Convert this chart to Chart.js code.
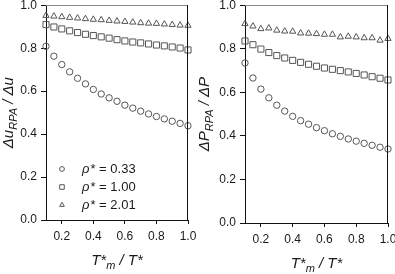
<!DOCTYPE html>
<html>
<head>
<meta charset="utf-8">
<script src="https://cdn.jsdelivr.net/npm/chart.js@4.4.1/dist/chart.umd.min.js"></script>
<style>
    html, body { margin: 0; padding: 0; background: #fff; }
    #wrap { position: relative; width: 395px; height: 274px; overflow: hidden; }
    .panel { position: absolute; top: 0; height: 274px; }
    #leftPanel { left: 0; width: 200px; }
    #rightPanel { left: 190px; width: 205px; }
</style>
</head>
<body>
<div id="wrap">
    <div class="panel" id="leftPanel"><canvas id="energyChart"></canvas></div>
    <div class="panel" id="rightPanel"><canvas id="pressureChart"></canvas></div>
</div>
<script>
// T*m / T*
const xValues = [0.10, 0.15, 0.20, 0.25, 0.30, 0.35, 0.40, 0.45, 0.50, 0.55,
                 0.60, 0.65, 0.70, 0.75, 0.80, 0.85, 0.90, 0.95, 1.00];

// left panel: du_RPA / du
const duCircles   = [0.809, 0.763, 0.724, 0.690, 0.660, 0.634, 0.608, 0.587, 0.569, 0.553,
                     0.535, 0.521, 0.507, 0.494, 0.482, 0.471, 0.460, 0.450, 0.439];
const duSquares   = [0.910, 0.899, 0.890, 0.881, 0.873, 0.865, 0.859, 0.853, 0.847, 0.840,
                     0.834, 0.829, 0.825, 0.820, 0.815, 0.811, 0.806, 0.801, 0.792];
const duTriangles = [0.952, 0.949, 0.946, 0.943, 0.940, 0.937, 0.934, 0.932, 0.929, 0.926,
                     0.924, 0.921, 0.918, 0.916, 0.915, 0.912, 0.910, 0.907, 0.906];

// right panel: dP_RPA / dP
const dpCircles   = [0.735, 0.666, 0.615, 0.575, 0.541, 0.514, 0.490, 0.470, 0.454, 0.438,
                     0.424, 0.410, 0.398, 0.386, 0.376, 0.366, 0.357, 0.348, 0.340];
const dpSquares   = [0.836, 0.819, 0.799, 0.783, 0.769, 0.758, 0.747, 0.738, 0.729, 0.720,
                     0.712, 0.706, 0.700, 0.694, 0.687, 0.680, 0.672, 0.665, 0.657];
const dpTriangles = [0.915, 0.904, 0.892, 0.895, 0.885, 0.881, 0.880, 0.872, 0.871, 0.869,
                     0.866, 0.866, 0.854, 0.857, 0.854, 0.850, 0.850, 0.839, 0.847];

const xTicks = [0.2, 0.4, 0.6, 0.8, 1.0];
const yTicks = [0.0, 0.2, 0.4, 0.6, 0.8, 1.0];

const densityLabels = ['0.33', '1.00', '2.01'];
const markerStyles = ['circle', 'rect', 'triangle'];
const markerRadius = [3.2, 4.3, 3.6];

const FONT = '"Liberation Sans", Arial, sans-serif';
const INK = '#1a1a1a';
const MARK = '#555';

function makeSeries(valuesList) {
    return valuesList.map((values, i) => ({
        data: xValues.map((x, k) => ({ x: x, y: values[k] })),
        showLine: false,
        pointStyle: markerStyles[i],
        pointRadius: markerRadius[i],
        pointBorderColor: MARK,
        pointBackgroundColor: 'rgba(0,0,0,0)',
        pointBorderWidth: 1,
        clip: false
    }));
}

// draws "main" + lowered "sub" + "rest", centred on 0 along x
function drawSubTitle(ctx, parts, size) {
    const mainFont = 'italic ' + size + 'px ' + FONT;
    const subFont = 'italic ' + (size - 4) + 'px ' + FONT;
    ctx.font = mainFont;
    const w1 = ctx.measureText(parts.main).width;
    const w3 = ctx.measureText(parts.rest).width;
    ctx.font = subFont;
    const w2 = ctx.measureText(parts.sub).width;
    let x = -(w1 + w2 + w3) / 2;
    ctx.textAlign = 'left';
    ctx.textBaseline = 'alphabetic';
    ctx.font = mainFont;
    ctx.fillText(parts.main, x, 0);
    x += w1;
    ctx.font = subFont;
    ctx.fillText(parts.sub, x, 4);
    x += w2;
    ctx.font = mainFont;
    ctx.fillText(parts.rest, x, 0);
}

const panelDecor = {
    id: 'panelDecor',
    afterDraw(chart, args, opts) {
        const ctx = chart.ctx;
        const a = chart.chartArea;
        ctx.save();
        // top and right frame lines
        ctx.lineWidth = 1;
        ctx.strokeStyle = '#8a8a8a';
        ctx.beginPath();
        ctx.moveTo(Math.round(a.left), Math.round(a.top) + 0.5);
        ctx.lineTo(Math.round(a.right), Math.round(a.top) + 0.5);
        ctx.stroke();
        ctx.strokeStyle = '#111';
        ctx.beginPath();
        ctx.moveTo(Math.round(a.right) - 0.5, Math.round(a.top));
        ctx.lineTo(Math.round(a.right) - 0.5, Math.round(a.bottom));
        ctx.stroke();

        ctx.fillStyle = INK;
        // x title
        ctx.save();
        ctx.translate((a.left + a.right) / 2, a.bottom + 45);
        drawSubTitle(ctx, { main: 'T*', sub: 'm', rest: ' / T*' }, 15);
        ctx.restore();

        // y title
        ctx.save();
        ctx.translate(opts.yTitleX, (a.top + a.bottom) / 2);
        ctx.rotate(-Math.PI / 2);
        drawSubTitle(ctx, opts.yTitle, 15);
        ctx.restore();

        // legend inside the plot
        if (opts.legend) {
            densityLabels.forEach((label, i) => {
                const y = 169 + i * 18;
                ctx.strokeStyle = MARK;
                ctx.fillStyle = 'rgba(0,0,0,0)';
                ctx.lineWidth = 1;
                Chart.helpers.drawPoint(ctx, {
                    pointStyle: markerStyles[i],
                    radius: markerRadius[i] * 0.75,
                    rotation: 0,
                    borderWidth: 1
                }, 62, y);
                ctx.fillStyle = INK;
                ctx.textBaseline = 'middle';
                ctx.textAlign = 'left';
                ctx.font = 'italic 13px ' + FONT;
                ctx.fillText('\u03c1', 82, y);
                const w = ctx.measureText('\u03c1').width;
                ctx.font = '13px ' + FONT;
                ctx.fillText('* = ' + label, 82 + w + 1, y);
            });
        }
        ctx.restore();
    }
};

function makeOptions(cfg) {
    return {
        responsive: true,
        maintainAspectRatio: false,
        animation: false,
        layout: { padding: { left: 0, right: cfg.padRight, top: 5, bottom: 0 } },
        plugins: {
            legend: { display: false },
            tooltip: { enabled: false },
            panelDecor: { yTitle: cfg.yTitle, yTitleX: cfg.yTitleX, legend: cfg.legend }
        },
        scales: {
            x: {
                type: 'linear',
                min: 0.1,
                max: 1.0,
                afterBuildTicks: s => { s.ticks = xTicks.map(v => ({ value: v })); },
                afterFit: s => { s.height = cfg.xHeight; s.paddingLeft = 0; s.paddingRight = 0; },
                ticks: {
                    padding: 5,
                    color: INK,
                    font: { family: FONT, size: 12 },
                    maxRotation: 0,
                    autoSkip: false,
                    callback: v => Number(v).toFixed(1)
                },
                grid: { drawOnChartArea: false, drawTicks: true, tickLength: 4, color: '#111' },
                border: { color: '#111' }
            },
            y: {
                type: 'linear',
                min: 0,
                max: 1.0,
                afterBuildTicks: s => { s.ticks = yTicks.map(v => ({ value: v })); },
                afterFit: s => { s.width = cfg.yWidth; s.paddingTop = 0; s.paddingBottom = 0; },
                ticks: {
                    padding: 4,
                    color: INK,
                    font: { family: FONT, size: 12 },
                    callback: v => Number(v).toFixed(1)
                },
                grid: { drawOnChartArea: false, drawTicks: true, tickLength: 5, color: '#111' },
                border: { color: '#111' }
            }
        }
    };
}

new Chart(document.getElementById('energyChart'), {
    type: 'scatter',
    data: { datasets: makeSeries([duCircles, duSquares, duTriangles]) },
    options: makeOptions({
        padRight: 12, yWidth: 46, xHeight: 54, legend: true, yTitleX: 13,
        yTitle: { main: '\u0394u', sub: 'RPA', rest: ' / \u0394u' }
    }),
    plugins: [panelDecor]
});

new Chart(document.getElementById('pressureChart'), {
    type: 'scatter',
    data: { datasets: makeSeries([dpCircles, dpSquares, dpTriangles]) },
    options: makeOptions({
        padRight: 7, yWidth: 55, xHeight: 51, legend: false, yTitleX: 19,
        yTitle: { main: '\u0394P', sub: 'RPA', rest: ' / \u0394P' }
    }),
    plugins: [panelDecor]
});
</script>
</body>
</html>
